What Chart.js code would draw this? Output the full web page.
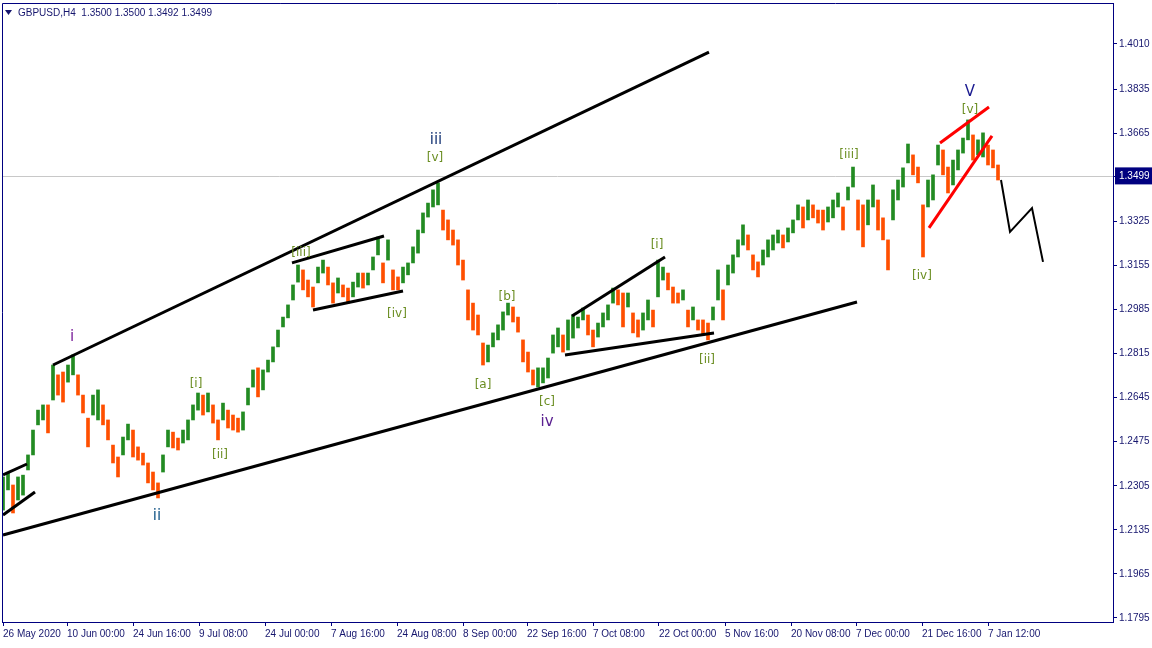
<!DOCTYPE html>
<html>
<head>
<meta charset="utf-8">
<title>GBPUSD,H4</title>
<script src="https://cdn.jsdelivr.net/npm/chart.js@4.4.1/dist/chart.umd.min.js"></script>
<style>
  html, body { margin: 0; padding: 0; background: #ffffff; }
  #wrap { width: 1152px; height: 648px; }
</style>
</head>
<body>
<div id="wrap"><canvas id="myChart" width="1152" height="648"></canvas></div>
<script>

// bar highs / lows (each bar here stands for a few H4 candles)
const highs = [
1.2339,1.2354,1.2308,1.2339,1.2346,1.2424,1.2520,1.2597,1.2617,1.2617,
1.2771,1.2733,1.2744,1.2771,1.2810,1.2733,1.2655,1.2566,1.2655,1.2675,
1.2617,1.2559,1.2462,1.2416,1.2493,1.2543,1.2520,1.2455,1.2431,1.2393,
1.2358,1.2316,1.2424,1.2520,1.2512,1.2489,1.2520,1.2559,1.2617,1.2663,
1.2655,1.2663,1.2617,1.2559,1.2624,1.2597,1.2578,1.2566,1.2590,1.2682,
1.2752,1.2760,1.2752,1.2790,1.2841,1.2906,1.2956,1.3003,1.3080,1.3157,
1.3138,1.3099,1.3072,1.3149,1.3176,1.3149,1.3088,1.3107,1.3080,1.3068,
1.3091,1.3126,1.3126,1.3126,1.3188,1.3265,1.3165,1.3254,1.3138,1.3111,
1.3149,1.3165,1.3227,1.3292,1.3358,1.3396,1.3447,1.3474,1.3369,1.3331,
1.3292,1.3254,1.3176,1.3061,1.3010,1.2964,1.2856,1.2848,1.2895,1.2926,
1.2976,1.3010,1.2995,1.2956,1.2868,1.2821,1.2752,1.2760,1.2760,1.2798,
1.2887,1.2914,1.2887,1.2945,1.2964,1.2956,1.2991,1.2964,1.2906,1.2933,
1.2972,1.3003,1.3068,1.3061,1.3049,1.3049,1.2972,1.2945,1.2972,1.3022,
1.2983,1.3176,1.3149,1.3126,1.3072,1.3049,1.3061,1.2983,1.2995,1.2945,
1.2945,1.2933,1.2995,1.3138,1.3061,1.3157,1.3196,1.3254,1.3312,1.3273,
1.3196,1.3169,1.3215,1.3254,1.3273,1.3292,1.3273,1.3300,1.3331,1.3389,
1.3381,1.3408,1.3389,1.3369,1.3369,1.3381,1.3408,1.3435,1.3381,1.3458,
1.3535,1.3408,1.3389,1.3408,1.3466,1.3408,1.3339,1.3254,1.3447,1.3485,
1.3532,1.3624,1.3582,1.3535,1.3389,1.3485,1.3505,1.3620,1.3601,1.3535,
1.3562,1.3601,1.3647,1.3717,1.3659,1.3640,1.3667,1.3620,1.3601,1.3543
];
const lows = [
1.2211,1.2289,1.2200,1.2250,1.2269,1.2366,1.2424,1.2540,1.2559,1.2509,
1.2636,1.2655,1.2628,1.2705,1.2733,1.2655,1.2586,1.2455,1.2578,1.2559,
1.2540,1.2482,1.2393,1.2339,1.2424,1.2482,1.2416,1.2404,1.2385,1.2316,
1.2289,1.2258,1.2358,1.2455,1.2451,1.2443,1.2470,1.2482,1.2559,1.2597,
1.2578,1.2590,1.2547,1.2482,1.2559,1.2528,1.2520,1.2512,1.2520,1.2617,
1.2686,1.2648,1.2675,1.2744,1.2783,1.2841,1.2918,1.2953,1.3022,1.3091,
1.3061,1.3034,1.2995,1.3088,1.3126,1.3080,1.3010,1.3049,1.3034,1.3010,
1.3034,1.3072,1.3068,1.3080,1.3138,1.3196,1.3088,1.3176,1.3061,1.3061,
1.3088,1.3119,1.3165,1.3203,1.3281,1.3342,1.3381,1.3389,1.3292,1.3254,
1.3234,1.3157,1.3099,1.2945,1.2906,1.2887,1.2771,1.2783,1.2841,1.2868,
1.2906,1.2964,1.2937,1.2898,1.2783,1.2744,1.2694,1.2686,1.2702,1.2721,
1.2817,1.2841,1.2821,1.2829,1.2875,1.2914,1.2945,1.2887,1.2841,1.2879,
1.2918,1.2945,1.3010,1.3003,1.2918,1.2995,1.2895,1.2879,1.2906,1.2945,
1.2918,1.3034,1.3099,1.3061,1.3010,1.3010,1.3022,1.2918,1.2945,1.2906,
1.2887,1.2868,1.2945,1.3022,1.2945,1.3080,1.3126,1.3188,1.3234,1.3215,
1.3138,1.3111,1.3157,1.3188,1.3215,1.3242,1.3223,1.3246,1.3281,1.3331,
1.3300,1.3331,1.3339,1.3319,1.3292,1.3323,1.3339,1.3381,1.3292,1.3408,
1.3458,1.3292,1.3227,1.3312,1.3381,1.3292,1.3254,1.3138,1.3331,1.3408,
1.3458,1.3551,1.3505,1.3474,1.3188,1.3381,1.3408,1.3543,1.3505,1.3435,
1.3466,1.3524,1.3589,1.3640,1.3562,1.3582,1.3574,1.3543,1.3532,1.3485
];

const lastPrice = 1.3499;
const header = 'GBPUSD,H4  1.3500 1.3500 1.3492 1.3499';
const priceTicks = [1.4010, 1.3835, 1.3665, 1.3499, 1.3325, 1.3155, 1.2985, 1.2815, 1.2645, 1.2475, 1.2305, 1.2135, 1.1965, 1.1795];
const dateLabels = ['26 May 2020', '10 Jun 00:00', '24 Jun 16:00', '9 Jul 08:00', '24 Jul 00:00', '7 Aug 16:00',
  '24 Aug 08:00', '8 Sep 00:00', '22 Sep 16:00', '7 Oct 08:00', '22 Oct 00:00', '5 Nov 16:00',
  '20 Nov 08:00', '7 Dec 00:00', '21 Dec 16:00', '7 Jan 12:00'];
const dateBars = [0, 12.8, 26, 39.2, 52.4, 65.6, 78.8, 92, 104.8, 118, 131.2, 144.4, 157.6, 170.6, 183.8, 197];

// drawn lines: [bar, price] pairs
const upperChannel = [[10, 1.2771], [141.2, 1.3979]];
const lowerChannel = [[0, 1.2115], [170.8, 1.3014]];
const startTop = [[0, 1.2347], [4.8, 1.2389]];
const startBottom = [[0, 1.2192], [6.4, 1.2281]];
const triA_top = [[57.8, 1.3165], [76.2, 1.3269]];
const triA_bottom = [[62, 1.2983], [80, 1.3057]];
const triB_top = [[113.8, 1.2960], [132.4, 1.3188]];
const triB_bottom = [[112.4, 1.2810], [142.2, 1.2895]];
const redTop = [[187.4, 1.3628], [197.2, 1.3767]];
const redBottom = [[185.2, 1.3300], [197.8, 1.3655]];
const projection = [[199.6, 1.3485], [201.4, 1.3285], [205.8, 1.3377], [208, 1.3169]];

// wave labels
const waveText  = ['i', 'ii', 'iii', 'iv', 'V', '[i]', '[ii]', '[iii]', '[iv]', '[v]', '[a]', '[b]', '[c]', '[i]', '[ii]', '[iii]', '[iv]', '[v]'];
const waveBar   = [13.8, 30.8, 86.6, 108.8, 193.4, 38.6, 43.4, 59.6, 78.8, 86.4, 96, 100.8, 108.8, 130.8, 140.8, 169.2, 183.8, 193.4];
const wavePrice = [1.2879, 1.2188, 1.3640, 1.2551, 1.3825, 1.2698, 1.2424, 1.3203, 1.2968, 1.3570, 1.2694, 1.3034, 1.2628, 1.3234, 1.2790, 1.3582, 1.3115, 1.3755];

const NAVY = '#000080';
const TXT = '#16166e';

function pts(arr) {
    return arr.map(p => ({x: p[0], y: p[1]}));
}

function lineSet(arr, color, width) {
    return {
        type: 'line',
        data: pts(arr),
        borderColor: color,
        borderWidth: width,
        pointRadius: 0,
        fill: false,
        tension: 0,
        order: 1
    };
}

var dirs = highs.map((h, i) => {
    if (i == 0) return 1;
    return (h + lows[i]) >= (highs[i - 1] + lows[i - 1]) ? 1 : -1;
});

const romanColors = {'i': '#7a1f9a', 'ii': '#1a5a8a', 'iii': '#1c3a78', 'iv': '#5a2090', 'V': '#1a1a90'};

const extras = {
    id: 'extras',
    beforeDatasetsDraw(chart) {
        const c = chart.ctx, a = chart.chartArea;
        const y = chart.scales.y.getPixelForValue(lastPrice);
        c.save();
        c.strokeStyle = '#c8c8c8';
        c.lineWidth = 1;
        c.beginPath();
        c.moveTo(a.left, Math.round(y) + 0.5);
        c.lineTo(a.right, Math.round(y) + 0.5);
        c.stroke();
        c.restore();
    },
    afterDatasetsDraw(chart) {
        const c = chart.ctx, a = chart.chartArea;
        const xs = chart.scales.x, ys = chart.scales.y;
        c.save();
        c.textAlign = 'center';
        c.textBaseline = 'middle';
        for (let i = 0; i < waveText.length; i++) {
            const t = waveText[i];
            const px = xs.getPixelForValue(waveBar[i]);
            const py = ys.getPixelForValue(wavePrice[i]);
            if (t[0] == '[') {
                c.font = '12px "DejaVu Sans"';
                c.fillStyle = '#6b8e23';
            } else {
                c.font = '15px "DejaVu Sans"';
                c.fillStyle = romanColors[t];
            }
            c.fillText(t, px, py);
        }
        // frame
        c.strokeStyle = NAVY;
        c.lineWidth = 1;
        c.beginPath();
        c.moveTo(a.left + 0.5, a.bottom);
        c.lineTo(a.left + 0.5, a.top + 0.5);
        c.lineTo(a.right, a.top + 0.5);
        c.stroke();
        // header
        c.fillStyle = TXT;
        c.beginPath();
        c.moveTo(5, 10);
        c.lineTo(12, 10);
        c.lineTo(8.5, 15);
        c.closePath();
        c.fill();
        c.font = '10px "Liberation Sans"';
        c.textAlign = 'left';
        c.fillText(header, 18, 13);
        c.restore();
    }
};

function noPad(s) {
    s.paddingTop = 0;
    s.paddingBottom = 0;
    s.paddingLeft = 0;
    s.paddingRight = 0;
}

const ctx = document.getElementById('myChart').getContext('2d');

var myChart = new Chart(ctx, {
    data: {
        datasets: [
            {
                type: 'bar',
                data: highs.map((h, i) => ({x: i, y: [lows[i], h]})),
                backgroundColor: c => dirs[c.dataIndex] > 0 ? '#228b22' : '#ff4f00',
                borderWidth: 0,
                barThickness: 3,
                grouped: false,
                order: 2
            },
            lineSet(upperChannel, '#000000', 3),
            lineSet(lowerChannel, '#000000', 3),
            lineSet(startTop, '#000000', 3),
            lineSet(startBottom, '#000000', 3),
            lineSet(triA_top, '#000000', 3),
            lineSet(triA_bottom, '#000000', 3),
            lineSet(triB_top, '#000000', 3),
            lineSet(triB_bottom, '#000000', 3),
            lineSet(redTop, '#ff0000', 3),
            lineSet(redBottom, '#ff0000', 3),
            lineSet(projection, '#000000', 2)
        ]
    },
    options: {
        responsive: false,
        animation: false,
        layout: { padding: { top: 3, left: 2 } },
        plugins: { legend: { display: false }, tooltip: { enabled: false } },
        scales: {
            x: {
                type: 'linear',
                offset: false,
                min: -0.2,
                max: 222,
                afterFit: s => { s.height = 26; noPad(s); },
                afterBuildTicks: s => { s.ticks = dateBars.map(v => ({value: v})); },
                grid: { offset: false, drawOnChartArea: false, drawTicks: true, tickLength: 4, color: NAVY },
                border: { color: NAVY, width: 1 },
                ticks: {
                    autoSkip: false,
                    maxRotation: 0,
                    align: 'start',
                    padding: 2,
                    color: TXT,
                    font: { family: 'Liberation Sans', size: 10 },
                    callback: v => {
                        const k = dateBars.findIndex(d => Math.abs(d - v) < 1e-6);
                        return k >= 0 ? dateLabels[k] : '';
                    }
                }
            },
            y: {
                position: 'right',
                min: 1.17792,
                max: 1.41682,
                afterFit: s => { s.width = 39; noPad(s); },
                afterBuildTicks: s => { s.ticks = priceTicks.map(v => ({value: v})); },
                grid: { drawOnChartArea: false, drawTicks: true, tickLength: 4, color: NAVY },
                border: { color: NAVY, width: 1 },
                ticks: {
                    padding: 2,
                    font: { family: 'Liberation Sans', size: 10 },
                    color: c => c.tick && c.tick.value == lastPrice ? '#ffffff' : TXT,
                    showLabelBackdrop: c => !!(c.tick && c.tick.value == lastPrice),
                    backdropColor: NAVY,
                    backdropPadding: { left: 4, right: 4, top: 3, bottom: 2 },
                    callback: v => v.toFixed(4)
                }
            }
        }
    },
    plugins: [extras]
});

</script>
</body>
</html>
